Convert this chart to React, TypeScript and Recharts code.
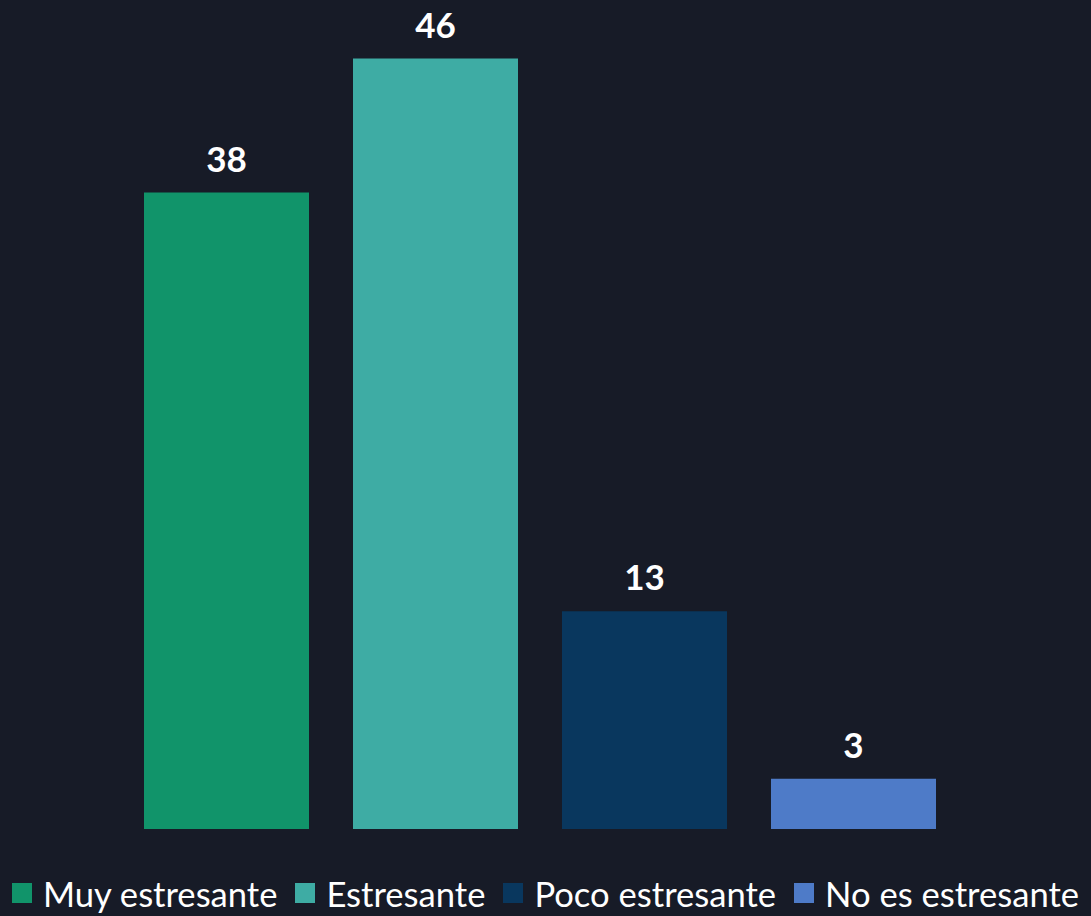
import React from "react";
import { BarChart, Bar, XAxis, YAxis, Cell, LabelList, Legend } from "recharts";

const categories = ["Muy estresante", "Estresante", "Poco estresante", "No es estresante"];
const values = [38, 46, 13, 3];
const colors = ["#11946a", "#3eaca4", "#09375e", "#4e7bc8"];

const data = categories.map((name, i) => ({ name, value: values[i] }));

const FONT = "Lato, 'Open Sans', sans-serif";

const renderLegend = () => (
  <div
    style={{
      height: 40,
      display: "flex",
      alignItems: "center",
      justifyContent: "center",
      fontFamily: FONT,
      fontSize: 34.6,
      color: "#ffffff",
      whiteSpace: "nowrap",
    }}
  >
    {categories.map((c, i) => (
      <div key={c} style={{ display: "flex", alignItems: "center", marginRight: i < categories.length - 1 ? 18 : 0 }}>
        <span style={{ display: "inline-block", width: 20, height: 20, background: colors[i], marginRight: 11 }} />
        <span>{c}</span>
      </div>
    ))}
  </div>
);

export default function App() {
  return (
    <div style={{ position: "absolute", left: 0, top: 0, width: 1091, height: 916, background: "#171b27" }}>
      <BarChart
        width={1091}
        height={916}
        data={data}
        margin={{ top: 25, right: 133, bottom: 47, left: 122 }}
      >
        <XAxis dataKey="name" hide />
        <YAxis hide domain={[0, 48]} allowDataOverflow />
        <Legend verticalAlign="bottom" content={renderLegend} wrapperStyle={{ bottom: 3, left: 0, width: 1091 }} />
        <Bar dataKey="value" barSize={165} isAnimationActive={false}>
          {data.map((d, i) => (
            <Cell key={d.name} fill={colors[i]} />
          ))}
          <LabelList
            dataKey="value"
            position="top"
            offset={21}
            fill="#ffffff"
            style={{ fontFamily: FONT, fontWeight: 700, fontSize: 35 }}
          />
        </Bar>
      </BarChart>
    </div>
  );
}
